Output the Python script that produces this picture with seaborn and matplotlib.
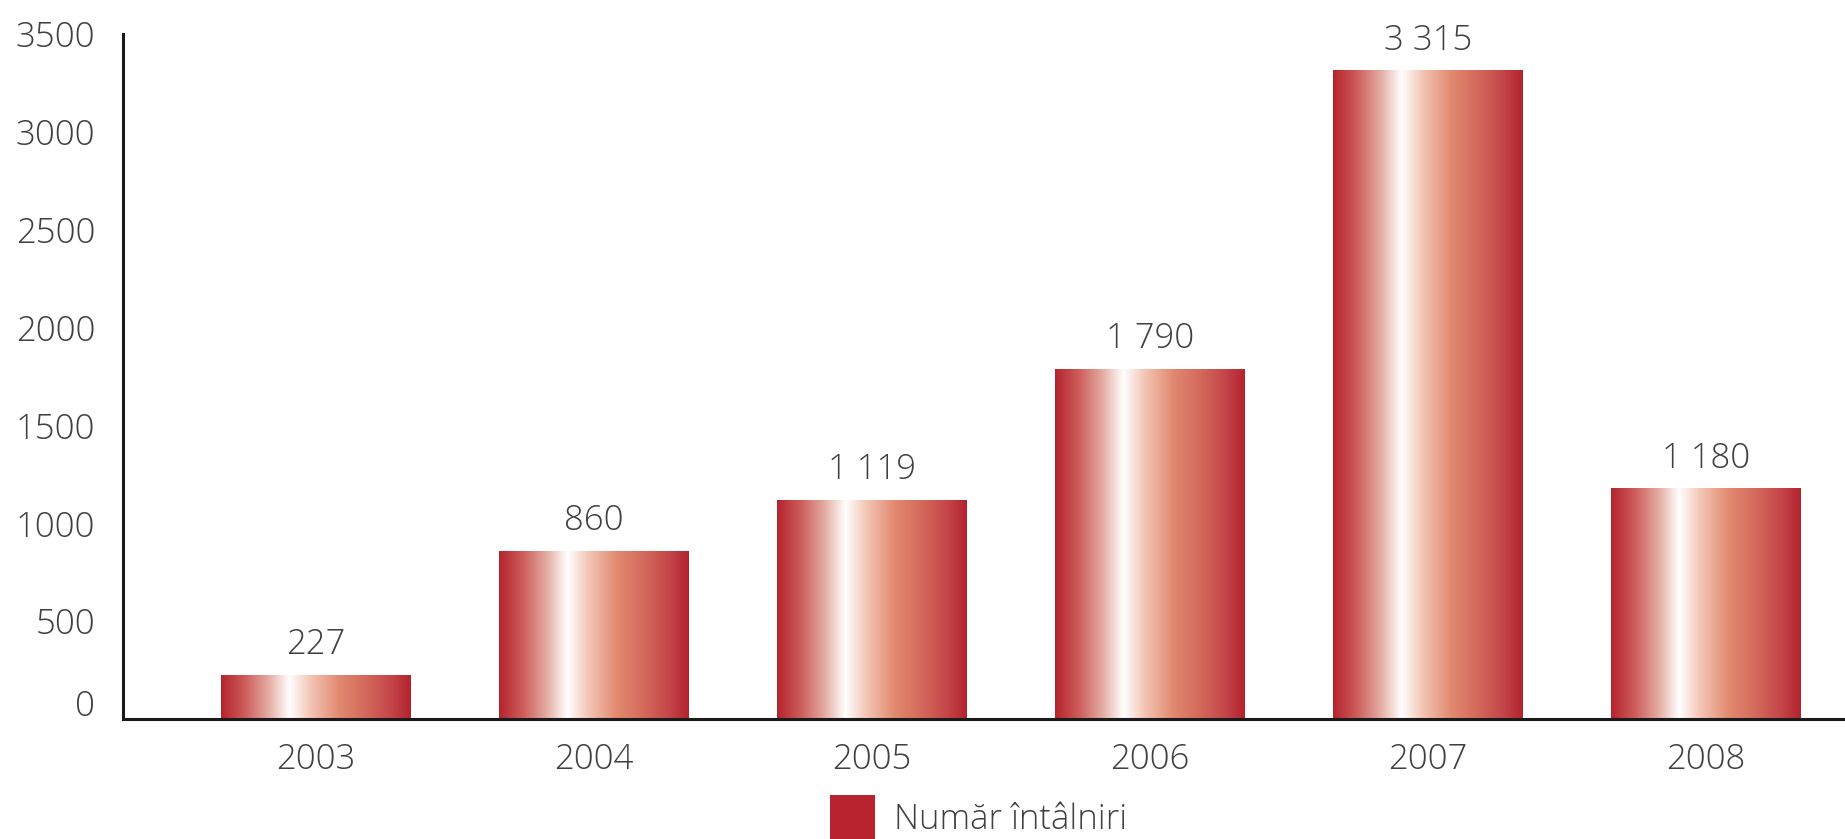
import matplotlib
matplotlib.use("Agg")
import matplotlib.pyplot as plt
import matplotlib.transforms as mtransforms
from matplotlib.colors import LinearSegmentedColormap
import numpy as np
import pandas as pd
import seaborn as sns

# date
years = ["2003", "2004", "2005", "2006", "2007", "2008"]
meetings = [227, 860, 1119, 1790, 3315, 1180]
series_name = "Număr întâlniri"
yticks = [0, 500, 1000, 1500, 2000, 2500, 3000, 3500]

df = pd.DataFrame({"an": years, "valoare": meetings})

sns.set_theme(style="white")
plt.rcParams["font.family"] = ["Open Sans", "DejaVu Sans"]
plt.rcParams["font.weight"] = "light"
text_color = "#404040"
dark_red = "#b8232f"

fig = plt.figure(figsize=(18.45, 8.39), dpi=100)
ax = fig.add_axes([123 / 1845, 1 - 719 / 839, 1 - 123 / 1845, (719 - 34) / 839])

sns.barplot(data=df, x="an", y="valoare", color=dark_red, width=0.68,
            saturation=1, linewidth=0, label=series_name, ax=ax)

# gradient orizontal pe fiecare bara
grad_cmap = LinearSegmentedColormap.from_list("bar_grad", [
    (0.0, "#b5242e"), (0.12, "#cc5a58"), (0.25, "#e4aca2"),
    (0.36, "#ffffff"), (0.47, "#f3c6b6"), (0.62, "#e28a70"),
    (0.76, "#d46a5c"), (0.9, "#c44548"), (1.0, "#b3232e"),
])
gradient = np.linspace(0, 1, 256).reshape(1, -1)
for patch in list(ax.patches):
    x0, y0 = patch.get_x(), patch.get_y()
    w, h = patch.get_width(), patch.get_height()
    im = ax.imshow(gradient, cmap=grad_cmap, aspect="auto",
                   extent=[x0, x0 + w, y0, y0 + h], zorder=patch.get_zorder() + 0.1)
    im.set_clip_path(patch)

labels = [f"{v:,}".replace(",", " ") for v in meetings]
ax.bar_label(ax.containers[0], labels=labels, padding=9, fontsize=25,
             color=text_color, fontweight="light")

ax.set_xlim(-0.694, 5.5)
ax.set_ylim(0, 3500)
ax.set_yticks(yticks)
ax.set_xlabel("")
ax.set_ylabel("")
ax.tick_params(axis="both", length=0, labelsize=25, labelcolor=text_color)
ax.tick_params(axis="x", pad=17)
ax.tick_params(axis="y", pad=20)

sns.despine(ax=ax)
for side in ["left", "bottom"]:
    ax.spines[side].set_color("#1a1a1a")
    ax.spines[side].set_linewidth(2.2)

# eticheta 0 putin mai sus
zero_lbl = ax.get_yticklabels()[0]
zero_lbl.set_transform(zero_lbl.get_transform() +
                       mtransforms.ScaledTranslation(0, 16 / 100, fig.dpi_scale_trans))

leg = ax.legend(loc="upper left", bbox_to_anchor=(830 / 1845, 1 - 795 / 839),
                bbox_transform=fig.transFigure, frameon=False, fontsize=25,
                handlelength=1.3, handleheight=1.6, handletextpad=0.55,
                borderpad=0, borderaxespad=0)
for t in leg.get_texts():
    t.set_color(text_color)

fig.savefig("out.png", dpi=100)
